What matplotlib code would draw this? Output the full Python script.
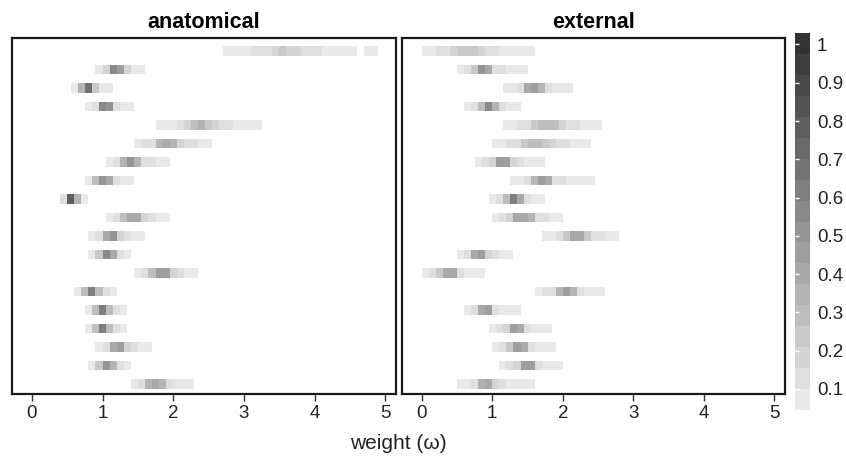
import numpy as np
import matplotlib
matplotlib.use("Agg")
import matplotlib.pyplot as plt
from matplotlib.colors import ListedColormap, BoundaryNorm

plt.rcParams["font.family"] = ["Liberation Sans", "DejaVu Sans"]

# each row: left edge of the first 0.1-wide weight bin, then the bin values
anat_start = [2.7, 0.9, 0.55, 0.75, 1.75, 1.45, 1.05, 0.75, 0.4, 1.05,
              0.8, 0.8, 1.45, 0.6, 0.75, 0.75, 0.9, 0.8, 1.4]
anat_vals = [
    [0.05, 0.06, 0.07, 0.08, 0.1, 0.12, 0.15, 0.2, 0.22, 0.2, 0.16, 0.13,
     0.12, 0.1, 0.08, 0.07, 0.06, 0.05, 0.05, 0.0, 0.06, 0.06],
    [0.06, 0.2, 0.55, 0.45, 0.18, 0.08, 0.06],
    [0.08, 0.35, 0.7, 0.25, 0.08, 0.05],
    [0.06, 0.15, 0.55, 0.5, 0.15, 0.07, 0.06],
    [0.05, 0.06, 0.07, 0.12, 0.2, 0.3, 0.32, 0.26, 0.18, 0.14, 0.1, 0.08, 0.07, 0.06, 0.05],
    [0.06, 0.1, 0.15, 0.32, 0.38, 0.33, 0.2, 0.14, 0.1, 0.07, 0.06],
    [0.06, 0.12, 0.35, 0.5, 0.35, 0.15, 0.1, 0.07, 0.06],
    [0.07, 0.3, 0.5, 0.4, 0.15, 0.07, 0.06],
    [0.12, 0.8, 0.35, 0.08],
    [0.06, 0.1, 0.3, 0.42, 0.42, 0.2, 0.1, 0.07, 0.06],
    [0.06, 0.15, 0.4, 0.5, 0.2, 0.1, 0.07, 0.06],
    [0.06, 0.25, 0.55, 0.4, 0.12, 0.06],
    [0.06, 0.12, 0.3, 0.45, 0.45, 0.2, 0.1, 0.07, 0.06],
    [0.08, 0.3, 0.6, 0.3, 0.1, 0.06],
    [0.08, 0.3, 0.6, 0.3, 0.1, 0.06],
    [0.08, 0.3, 0.6, 0.3, 0.1, 0.06],
    [0.06, 0.15, 0.4, 0.45, 0.2, 0.1, 0.07, 0.06],
    [0.08, 0.25, 0.5, 0.35, 0.12, 0.06],
    [0.06, 0.12, 0.35, 0.42, 0.35, 0.15, 0.08, 0.06, 0.06],
]

ext_start = [0.0, 0.5, 1.15, 0.6, 1.15, 1.0, 0.75, 1.25, 0.95, 1.0,
             1.7, 0.5, 0.0, 1.6, 0.6, 0.95, 1.0, 1.1, 0.5]
ext_vals = [
    [0.06, 0.08, 0.1, 0.13, 0.17, 0.24, 0.25, 0.22, 0.17, 0.13, 0.1, 0.08,
     0.08, 0.07, 0.06, 0.05],
    [0.06, 0.1, 0.25, 0.5, 0.4, 0.15, 0.1, 0.07, 0.06, 0.06],
    [0.06, 0.08, 0.15, 0.4, 0.45, 0.35, 0.15, 0.08, 0.06, 0.06],
    [0.06, 0.12, 0.3, 0.55, 0.35, 0.12, 0.07, 0.06],
    [0.05, 0.07, 0.1, 0.15, 0.25, 0.3, 0.3, 0.28, 0.2, 0.15, 0.1, 0.08, 0.06, 0.05],
    [0.05, 0.07, 0.1, 0.15, 0.25, 0.3, 0.3, 0.25, 0.2, 0.12, 0.1, 0.08, 0.06, 0.05],
    [0.06, 0.1, 0.2, 0.45, 0.45, 0.2, 0.1, 0.08, 0.06, 0.06],
    [0.06, 0.08, 0.15, 0.35, 0.45, 0.4, 0.15, 0.1, 0.08, 0.06, 0.06, 0.05],
    [0.06, 0.12, 0.3, 0.6, 0.4, 0.12, 0.08, 0.06],
    [0.06, 0.1, 0.2, 0.4, 0.4, 0.35, 0.15, 0.1, 0.07, 0.06],
    [0.06, 0.08, 0.1, 0.25, 0.4, 0.4, 0.25, 0.12, 0.1, 0.07, 0.06],
    [0.06, 0.15, 0.4, 0.45, 0.2, 0.1, 0.07, 0.06],
    [0.06, 0.1, 0.25, 0.4, 0.4, 0.15, 0.08, 0.07, 0.06],
    [0.06, 0.1, 0.15, 0.35, 0.45, 0.35, 0.12, 0.08, 0.06, 0.06],
    [0.06, 0.15, 0.4, 0.45, 0.15, 0.08, 0.07, 0.06],
    [0.06, 0.12, 0.2, 0.45, 0.4, 0.15, 0.08, 0.07, 0.06],
    [0.06, 0.1, 0.25, 0.45, 0.4, 0.15, 0.08, 0.07, 0.06],
    [0.06, 0.1, 0.2, 0.45, 0.45, 0.15, 0.08, 0.07, 0.06],
    [0.06, 0.08, 0.15, 0.35, 0.4, 0.2, 0.1, 0.08, 0.06, 0.06, 0.05],
]

panel_titles = ["anatomical", "external"]
cbar_ticks = [0.1, 0.2, 0.3, 0.4, 0.5, 0.6, 0.7, 0.8, 0.9, 1.0]
cbar_labels = ["0.1", "0.2", "0.3", "0.4", "0.5", "0.6", "0.7", "0.8", "0.9", "1"]
bin_width = 0.1

# stepped grey scale
bounds = np.linspace(0.045, 1.03, 19)
greys = np.linspace(0.915, 0.2, len(bounds) - 1)
cmap = ListedColormap([(g, g, g) for g in greys])
cmap.set_under("white")
norm = BoundaryNorm(bounds, cmap.N)

fig = plt.figure(figsize=(8.46, 4.61), dpi=100)
ax1 = fig.add_axes([0.0142, 0.1453, 0.4539, 0.7723])
ax2 = fig.add_axes([0.4752, 0.1453, 0.4527, 0.7723])
cax = fig.add_axes([0.9397, 0.1106, 0.0177, 0.8178])


def draw_panel(ax, starts, rows, title):
    n = len(rows)
    for i, (s, vals) in enumerate(zip(starts, rows)):
        vals = np.array(vals, dtype=float)
        vals = np.ma.masked_less_equal(vals, 0.0)
        edges = s + bin_width * np.arange(len(vals) + 1)
        y = n - 1 - i
        mesh = ax.pcolormesh(edges, [y - 0.26, y + 0.26], vals[None, :],
                             cmap=cmap, norm=norm, edgecolor="none")
    ax.set_xlim(-0.28, 5.15)
    ax.set_ylim(-0.55, n - 0.3)
    ax.set_yticks([])
    ax.set_xticks(range(6))
    ax.tick_params(axis="x", length=5, width=1, color="#333333",
                   labelsize=13.5, labelcolor="#222222", pad=3)
    for sp in ax.spines.values():
        sp.set_linewidth(1.6)
        sp.set_color("#1a1a1a")
    ax.set_title(title, fontsize=15.5, fontweight="bold", pad=7)
    return mesh


draw_panel(ax1, anat_start, anat_vals, panel_titles[0])
mesh = draw_panel(ax2, ext_start, ext_vals, panel_titles[1])

fig.text(0.471, 0.025, "weight (\u03c9)", ha="center", fontsize=15, color="#222222")

cb = fig.colorbar(mesh, cax=cax, ticks=cbar_ticks)
cb.minorticks_off()
cb.outline.set_visible(False)
cb.ax.set_yticklabels(cbar_labels)
cb.ax.tick_params(which="both", right=False, left=True, direction="in", length=3,
                  width=1, color="white", labelsize=13.5, labelcolor="#222222",
                  pad=5, labelleft=False, labelright=True)

fig.savefig("out.png", dpi=100)
